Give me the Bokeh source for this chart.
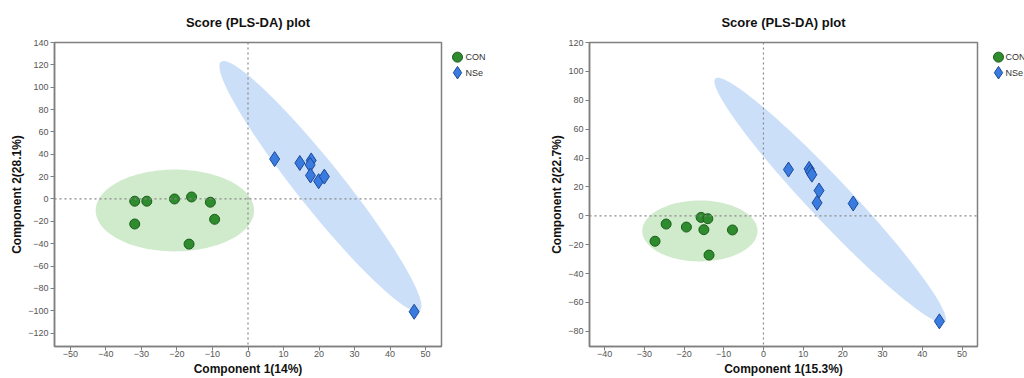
import numpy as np
from bokeh.plotting import figure
from bokeh.layouts import row
from bokeh.models import Span, FixedTicker, Range1d
from bokeh.core.properties import value
from bokeh.embed import file_html
from bokeh.resources import INLINE

# ---------------- data ----------------
titles = ["Score (PLS-DA) plot", "Score (PLS-DA) plot"]
x_labels = ["Component 1(14%)", "Component 1(15.3%)"]
y_labels = ["Component 2(28.1%)", "Component 2(22.7%)"]
groups = ["CON", "NSe"]

left_con_x = [-31.9, -28.5, -20.7, -15.9, -10.6, -31.9, -9.4, -16.6]
left_con_y = [-2.0, -2.0, 0.0, 1.8, -2.9, -22.4, -18.2, -40.4]
left_nse_x = [7.5, 14.6, 17.8, 17.5, 17.6, 19.9, 21.5, 46.8]
left_nse_y = [35.7, 32.2, 34.5, 30.5, 21.0, 15.9, 20.0, -100.9]

right_con_x = [-15.7, -14.0, -24.5, -19.4, -15.0, -7.8, -27.3, -13.7]
right_con_y = [-1.1, -2.0, -5.7, -7.8, -9.6, -9.8, -17.6, -27.2]
right_nse_x = [6.3, 11.5, 11.8, 12.2, 14.0, 13.5, 22.6, 44.3]
right_nse_y = [32.0, 32.5, 30.5, 28.5, 17.5, 9.0, 8.5, -73.1]

# confidence ellipses: center, half-axis vector u, conjugate half-axis vector v (data units)
left_con_ellipse = [(-20.6, -10.3), (22.3, 0.0), (0.0, 36.6)]
left_nse_ellipse = [(20.4, 11.3), (28.0, -111.4), (5.1, 12.6)]
right_con_ellipse = [(-16.0, -10.5), (14.5, 0.0), (0.0, 21.1)]
right_nse_ellipse = [(16.8, 10.7), (28.9, -84.3), (3.8, 9.9)]

left_x_ticks = list(range(-50, 51, 10))
left_y_ticks = list(range(-120, 141, 20))
right_x_ticks = list(range(-40, 51, 10))
right_y_ticks = list(range(-80, 121, 20))

left_x_range = (-54.5, 54.5)
left_y_range = (-132, 140)
right_x_range = (-43.8, 53.9)
right_y_range = (-90.5, 120)

# ---------------- styles ----------------
CON_FILL, CON_LINE = "#2e8b2e", "#1b5e1b"
NSE_FILL, NSE_LINE = "#3a7be0", "#1d4a9a"
CON_ELL = "#cbe8c6"
NSE_ELL = "#c6dcf7"
FONT = "Liberation Sans"
H = 378
TOP, BOTTOM = 42, 31


def ellipse_pts(spec, n=120):
    (cx, cy), (ux, uy), (vx, vy) = spec
    t = np.linspace(0, 2 * np.pi, n)
    return cx + ux * np.cos(t) + vx * np.sin(t), cy + uy * np.cos(t) + vy * np.sin(t)


def make(title, xl, yl, cx, cy, nx, ny, ce, ne, xt, yt, xr, yr, bl, w):
    p = figure(width=w, height=H, x_range=xr, y_range=yr,
               output_backend="svg", toolbar_location=None,
               min_border_left=bl, min_border_right=2, min_border_top=TOP,
               min_border_bottom=BOTTOM)
    p.title.text = title
    p.title.align = "center"
    p.title.text_font = FONT
    p.title.text_font_size = "13px"
    p.title.text_font_style = "bold"
    p.title.text_color = "#111111"
    p.title.standoff = 25
    p.grid.visible = False
    p.outline_line_color = "#7f7f7f"
    p.outline_line_width = 1.5
    p.background_fill_color = "white"
    p.border_fill_color = "white"

    for ax, lab, ticks in ((p.xaxis[0], xl, xt), (p.yaxis[0], yl, yt)):
        ax.ticker = FixedTicker(ticks=ticks)
        ax.axis_label = lab
        ax.axis_label_text_font = FONT
        ax.axis_label_text_font_size = "12px"
        ax.axis_label_text_font_style = "bold"
        ax.axis_label_text_color = "#111111"
        ax.major_label_text_font = FONT
        ax.major_label_text_font_size = "9px"
        ax.major_label_text_color = "#555555"
        ax.axis_line_color = "#7f7f7f"
        ax.axis_line_width = 1.5
        ax.major_tick_line_color = "#7f7f7f"
        ax.major_tick_in = 0
        ax.major_tick_out = 4
        ax.minor_tick_line_color = None
    p.xaxis[0].major_label_standoff = 0
    p.xaxis[0].axis_label_standoff = 2
    p.yaxis[0].major_label_standoff = 2
    p.yaxis[0].axis_label_standoff = 1

    ex, ey = ellipse_pts(ce)
    p.patch(ex, ey, fill_color=CON_ELL, line_color=None, fill_alpha=0.9)
    ex, ey = ellipse_pts(ne)
    p.patch(ex, ey, fill_color=NSE_ELL, line_color=None, fill_alpha=0.9)

    for dim in ("width", "height"):
        p.add_layout(Span(location=0, dimension=dim, line_color="#888888",
                          line_width=1.2, line_dash="2 3"))

    p.scatter(cx, cy, marker="circle", size=10, fill_color=CON_FILL,
              line_color=CON_LINE, line_width=1)
    p.scatter(nx, ny, marker="diamond", size=15, fill_color=NSE_FILL,
              line_color=NSE_LINE, line_width=1)
    return p


def legend_fig(w, gx, tx):
    """Small side panel holding the group key (page-pixel coordinates)."""
    lf = figure(width=w, height=H, output_backend="svg", toolbar_location=None,
                x_axis_type=None, y_axis_type=None, title=None,
                min_border_left=0, min_border_right=0,
                min_border_top=TOP, min_border_bottom=BOTTOM,
                x_range=Range1d(0, w), y_range=Range1d(H - BOTTOM, TOP),
                outline_line_color=None)
    lf.grid.visible = False
    rows = [56.7, 72.3]
    lf.scatter([gx], [rows[0]], marker="circle", size=10, fill_color=CON_FILL,
               line_color=CON_LINE, line_width=1)
    lf.scatter([gx], [rows[1]], marker="diamond", size=12.5, fill_color=NSE_FILL,
               line_color=NSE_LINE, line_width=1)
    lf.text([tx, tx], rows, text=groups, text_font=value(FONT),
            text_font_size="9px", text_color="#333333",
            text_baseline="middle", text_align="left")
    return lf


p1 = make(titles[0], x_labels[0], y_labels[0], left_con_x, left_con_y,
          left_nse_x, left_nse_y, left_con_ellipse, left_nse_ellipse,
          left_x_ticks, left_y_ticks, left_x_range, left_y_range, 54, 443)
l1 = legend_fig(62, 14, 22)
p2 = make(titles[1], x_labels[1], y_labels[1], right_con_x, right_con_y,
          right_nse_x, right_nse_y, right_con_ellipse, right_nse_ellipse,
          right_x_ticks, right_y_ticks, right_x_range, right_y_range, 84, 474)
l2 = legend_fig(45, 19, 26)

layout = row(p1, l1, p2, l2, spacing=0)
open("out.html", "w").write(file_html(layout, INLINE))
